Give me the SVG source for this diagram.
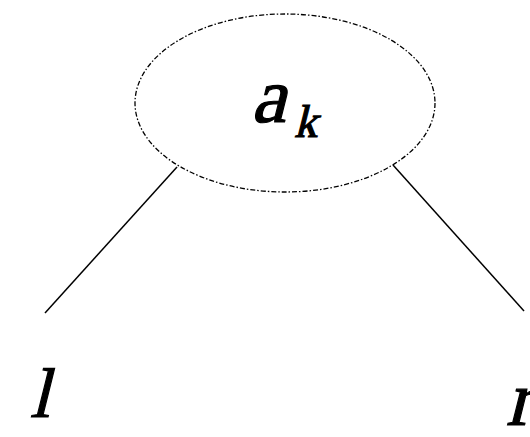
<svg xmlns="http://www.w3.org/2000/svg" width="530" height="437" viewBox="0 0 530 437">
<style>
.node{fill:#fff;stroke:#000;stroke-width:1.3;stroke-dasharray:5 2 1.5 2}
.edge{stroke:#000;stroke-width:1.5;fill:none}
.lbl{font-family:"Liberation Serif","Times New Roman",serif;fill:#000;stroke:#000;stroke-width:1.2}
</style>
<rect width="530" height="437" fill="#fff"/>
<g id="connectors">
<line class="edge" x1="177" y1="167" x2="45" y2="313"/>
<line class="edge" x1="393" y1="165" x2="524" y2="311"/>
</g>
<g id="node-ak">
<ellipse class="node" cx="285" cy="103" rx="150" ry="89"/>
<text class="lbl" transform="translate(251,122) skewX(-14)" font-size="78">a</text>
<text class="lbl" transform="translate(294,137) skewX(-14)" font-size="46">k</text>
</g>
<g id="node-l">
<text class="lbl" transform="translate(30,417) skewX(-14)" font-size="70">l</text>
</g>
<g id="node-r">
<text class="lbl" transform="translate(506,425) skewX(-14)" font-size="78">r</text>
</g>
</svg>
